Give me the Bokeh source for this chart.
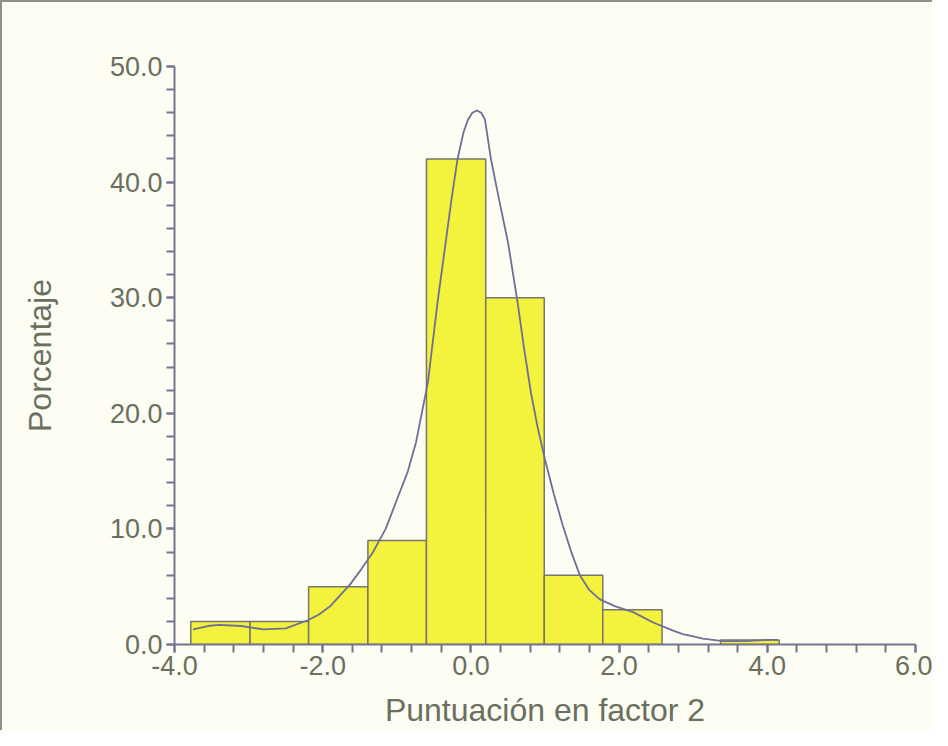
from bokeh.plotting import figure
from bokeh.models import NumeralTickFormatter, SingleIntervalTicker, Range1d
from bokeh.embed import file_html
from bokeh.resources import INLINE

# Histogram bins (factor score) and percentages
bin_left = [-3.78, -2.98, -2.19, -1.39, -0.60, 0.20, 0.99, 1.78, 2.58, 3.37]
bin_right = [-2.98, -2.19, -1.39, -0.60, 0.20, 0.99, 1.78, 2.58, 3.37, 4.16]
percent = [2.0, 2.0, 5.0, 9.0, 42.0, 30.0, 6.0, 3.0, 0.0, 0.4]

# Density curve
curve_x = [-3.75, -3.55, -3.4, -3.1, -2.8, -2.5, -2.2, -2.05, -1.9, -1.63, -1.48, -1.32,
           -1.15, -1.0, -0.85, -0.74, -0.58, -0.45, -0.34, -0.26, -0.18, -0.10, -0.04,
           0.02, 0.08, 0.14, 0.19, 0.27, 0.38, 0.50, 0.63, 0.72, 0.81, 0.90, 1.0, 1.12,
           1.24, 1.36, 1.47, 1.6, 1.74, 1.95, 2.19, 2.46, 2.73, 2.86, 3.0, 3.13, 3.4,
           3.7, 4.0, 4.14]
curve_y = [1.3, 1.6, 1.7, 1.6, 1.3, 1.4, 2.1, 2.6, 3.3, 5.2, 6.5, 8.0,
           10.0, 12.5, 15.0, 17.5, 22.7, 29.6, 34.8, 38.6, 42.0, 44.3, 45.4,
           46.0, 46.2, 46.0, 45.4, 42.0, 38.5, 34.8, 29.6, 25.5, 21.8, 18.8, 16.0, 13.0,
           10.3, 7.9, 6.0, 4.7, 3.9, 3.3, 2.8, 1.9, 1.2, 0.9, 0.7, 0.5, 0.3,
           0.3, 0.4, 0.4]

x_label = "Puntuación en factor 2"
y_label = "Porcentaje"

BG = "#fdfdf3"
TXT = "#6b6f5e"
AX = "#74748e"

p = figure(frame_width=741, frame_height=578,
           min_border_left=172, min_border_right=17, min_border_top=64, min_border_bottom=86,
           x_range=Range1d(-4, 6), y_range=Range1d(0, 50),
           output_backend="svg", toolbar_location=None,
           background_fill_color=BG, border_fill_color=BG, outline_line_color=None)
p.styles = {"border-top": "2px solid #8f8f84", "border-left": "2px solid #8f8f84"}

bl = [l for l, v in zip(bin_left, percent) if v > 0]
br = [r for r, v in zip(bin_right, percent) if v > 0]
bv = [v for v in percent if v > 0]
p.quad(left=bl, right=br, bottom=0, top=bv, fill_color="#f3f23c",
       line_color="#76766e", line_width=1.5)
p.line(curve_x, curve_y, line_color="#6f6f96", line_width=1.8, line_join="round")

p.grid.visible = False
for ax in (p.xaxis[0], p.yaxis[0]):
    ax.axis_line_color = AX
    ax.axis_line_width = 2
    ax.major_tick_line_color = AX
    ax.minor_tick_line_color = AX
    ax.major_tick_line_width = 2
    ax.minor_tick_line_width = 2
    ax.major_tick_in = 0
    ax.minor_tick_in = 0
    ax.major_tick_out = 8
    ax.minor_tick_out = 8
    ax.major_label_text_font = "Liberation Sans"
    ax.major_label_text_font_size = "27px"
    ax.major_label_text_color = TXT
    ax.axis_label_text_font = "Liberation Sans"
    ax.axis_label_text_font_size = "32px"
    ax.axis_label_text_font_style = "normal"
    ax.axis_label_text_color = TXT
    ax.formatter = NumeralTickFormatter(format="0.0")

p.xaxis[0].ticker = SingleIntervalTicker(interval=2, num_minor_ticks=5)
p.yaxis[0].ticker = SingleIntervalTicker(interval=10, num_minor_ticks=5)
p.xaxis[0].axis_label = x_label
p.yaxis[0].axis_label = y_label
p.xaxis[0].major_label_standoff = 3
p.yaxis[0].major_label_standoff = 4
p.xaxis[0].axis_label_standoff = 14
p.yaxis[0].axis_label_standoff = 49

open("out.html", "w").write(file_html(p, INLINE))
